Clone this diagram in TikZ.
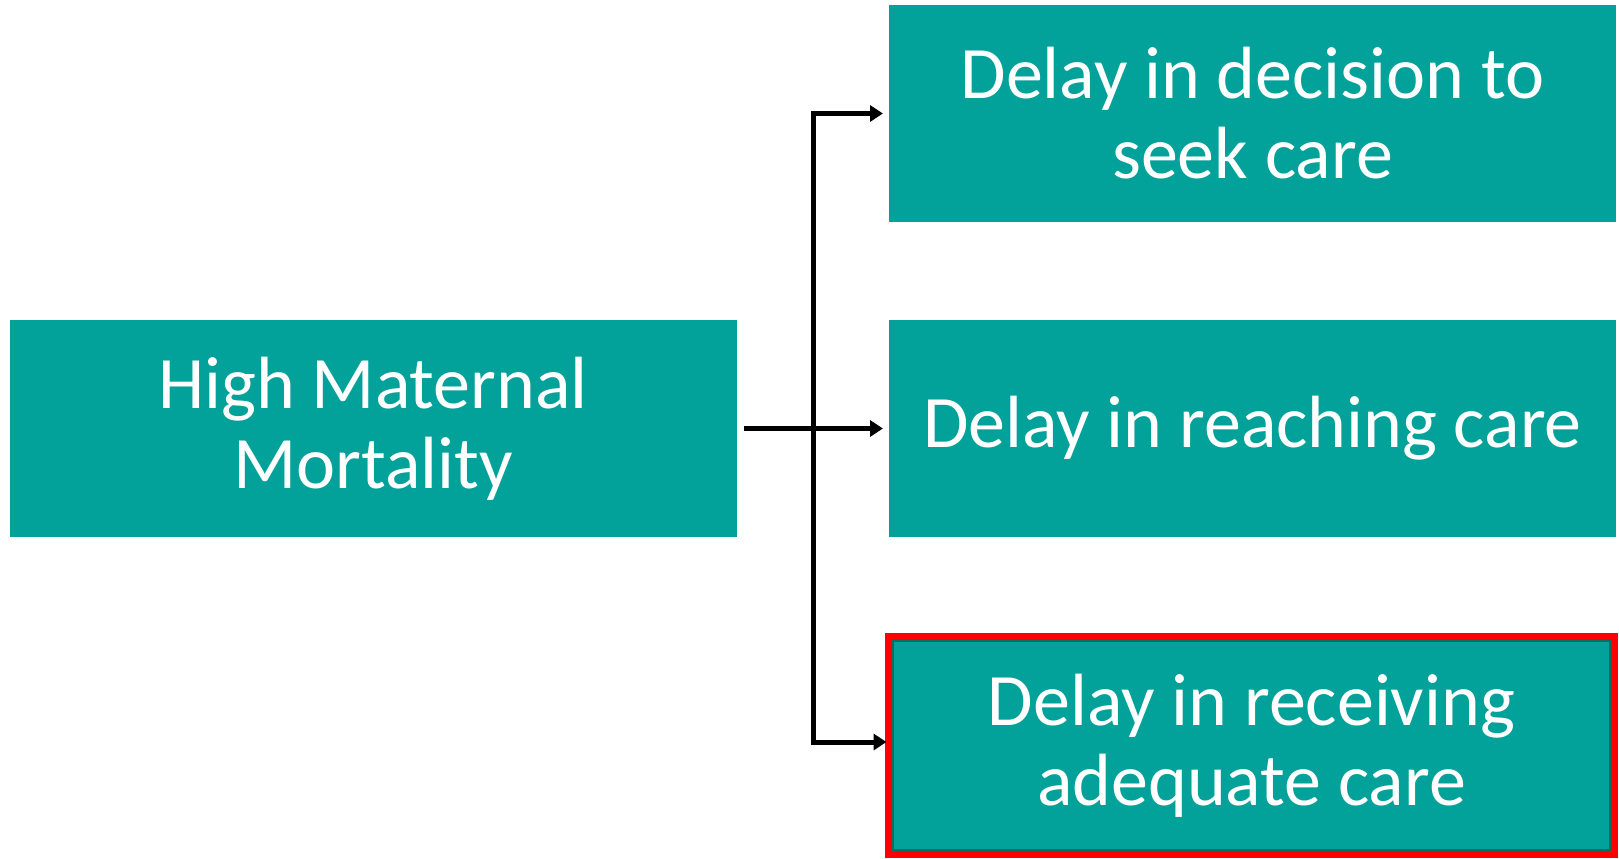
\documentclass[tikz,border=0pt]{standalone}
\usepackage{fontspec}
\setmainfont{Carlito}
\usetikzlibrary{arrows.meta}
\definecolor{tealbox}{RGB}{2,161,153}
\definecolor{tealshade}{RGB}{10,110,104}
\begin{document}
\begin{tikzpicture}[x=0.5pt,y=-0.5pt,
  box/.style={fill=tealbox, draw=none, text=white, align=center, inner sep=0pt, outer sep=0pt,
    minimum width=363.5pt, minimum height=108.5pt, font=\fontsize{37}{40}\selectfont},
  hilite/.style={draw=red, line width=3.5pt, minimum width=363pt, minimum height=109pt},
  conn/.style={line width=2.5pt, draw=black, line join=miter},
  tip/.style={-{Triangle[length=6.5pt,width=8pt]}},
  tips/.style={{Triangle[length=6.5pt,width=8pt]}-{Triangle[length=6.5pt,width=8pt]}}]
\useasboundingbox (0,0) rectangle (1619,858);
\node[box] (L) at (373,428.5) {High Maternal\\Mortality};
\node[box] (T) at (1252.5,113.5) {Delay in decision to\\seek care};
\node[box] (M) at (1252.5,428.5) {Delay in reaching care};
\node[box, hilite] (B) at (1251.5,745.5) {Delay in receiving\\adequate care};
\draw[tealshade, line width=1.2pt] ([shift={(2.3pt,-2.3pt)}]B.north west) rectangle ([shift={(-2.3pt,2.3pt)}]B.south east);
\coordinate (vx) at (813,742);
\draw[conn, tip, shorten >=3pt] ([xshift=3.5pt]L.east) -- (M.west);
\draw[conn, tips, shorten <=3pt, shorten >=1pt] (T.west) -| (vx) -- (B.west |- vx);
\end{tikzpicture}
\end{document}
